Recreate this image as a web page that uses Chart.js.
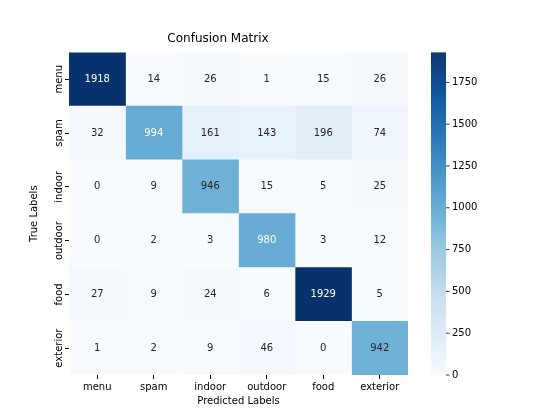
<!DOCTYPE html>
<html><head><script src="https://cdn.jsdelivr.net/npm/chart.js@4"></script>
<style>html,body{margin:0;padding:0;background:#fff}#c{display:block}</style></head>
<body><div style="width:548px;height:413px"><canvas id="c"></canvas></div>
<script>
const labels = ["menu","spam","indoor","outdoor","food","exterior"];
const matrix = [
 [1918,14,26,1,15,26],
 [32,994,161,143,196,74],
 [0,9,946,15,5,25],
 [0,2,3,980,3,12],
 [27,9,24,6,1929,5],
 [1,2,9,46,0,942]
];
const cbTicks = [0,250,500,750,1000,1250,1500,1750];
const vmax = 1929;
const stops = ["#f7fbff","#deebf7","#c6dbef","#9ecae1","#6baed6","#4292c6","#2171b5","#08519c","#08306b"];
function hex(h){return [1,3,5].map(i=>parseInt(h.substr(i,2),16));}
function blues(t){t=Math.max(0,Math.min(1,t));const p=t*8,i=Math.min(7,Math.floor(p)),f=p-i;const a=hex(stops[i]),b=hex(stops[i+1]);return `rgb(${a.map((v,k)=>Math.round(v+(b[k]-v)*f)).join(',')})`;}
const datasets = labels.map((_,j)=>({
  data: matrix.map(r=>[j,j+1]),
  backgroundColor: matrix.map(r=>blues(r[j]/vmax)),
  grouped:false, barPercentage:1, categoryPercentage:1, borderWidth:0
}));
const font='"DejaVu Sans", sans-serif';
const plug={id:'p',afterDatasetsDraw(ch){
  const c=ch.ctx, a=ch.chartArea, y=ch.scales.y;
  c.save(); c.font='10px '+font; c.textAlign='center'; c.textBaseline='middle';
  ch.data.datasets.forEach((ds,j)=>{ch.getDatasetMeta(j).data.forEach((el,i)=>{
    const v=matrix[i][j]; c.fillStyle=v/vmax>0.5?'#fff':'#262626';
    c.fillText(String(v),(el.x+el.base)/2,el.y);});});
  // rotated y labels
  c.fillStyle='#000';
  labels.forEach((l,i)=>{const yy=y.getPixelForValue(i);c.save();c.translate(a.left-10,yy);c.rotate(-Math.PI/2);c.fillText(l,0,0);c.restore();});
  // colorbar
  const x0=a.right+23,w=15;
  for(let k=0;k<a.bottom-a.top;k++){c.fillStyle=blues(1-k/(a.bottom-a.top));c.fillRect(x0,a.top+k,w,1.5);}
  c.textAlign='left';c.strokeStyle='#000';c.lineWidth=0.8;c.fillStyle='#000';
  cbTicks.forEach(t=>{const yy=a.bottom-(t/vmax)*(a.bottom-a.top);c.beginPath();c.moveTo(x0+w,yy);c.lineTo(x0+w+3.5,yy);c.stroke();c.fillText(String(t),x0+w+6,yy);});
  c.restore();
}};
new Chart(document.getElementById('c'),{type:'bar',
 data:{labels,datasets},
 options:{indexAxis:'y',responsive:true,maintainAspectRatio:false,animation:false,
  layout:{padding:{left:28,right:140,top:4,bottom:6}},
  plugins:{legend:{display:false},tooltip:{enabled:false},
   title:{display:true,text:'Confusion Matrix',color:'#000',font:{family:font,size:12,weight:'normal'},padding:{top:28,bottom:6}}},
  scales:{
   x:{type:'linear',min:0,max:6,
    afterBuildTicks(s){s.ticks=[0,1,2,3,4,5].map(v=>({value:v+0.5}));},
    ticks:{color:'#000',font:{family:font,size:10},callback:(v)=>labels[Math.floor(v)],padding:2,maxRotation:0},
    grid:{drawOnChartArea:false,drawTicks:true,tickLength:4,color:'#000'},border:{display:false},
    title:{display:true,text:'Predicted Labels',color:'#000',font:{family:font,size:10},padding:{top:0,bottom:0}}},
   y:{type:'category',offset:true,
    ticks:{display:false},
    afterFit(s){s.width=41;},
    grid:{drawOnChartArea:false,drawTicks:true,tickLength:4,color:'#000',offset:false},border:{display:false},
    title:{display:true,text:'True Labels',color:'#000',font:{family:font,size:10},padding:0}}
  }},
 plugins:[plug]});
</script></body></html>
